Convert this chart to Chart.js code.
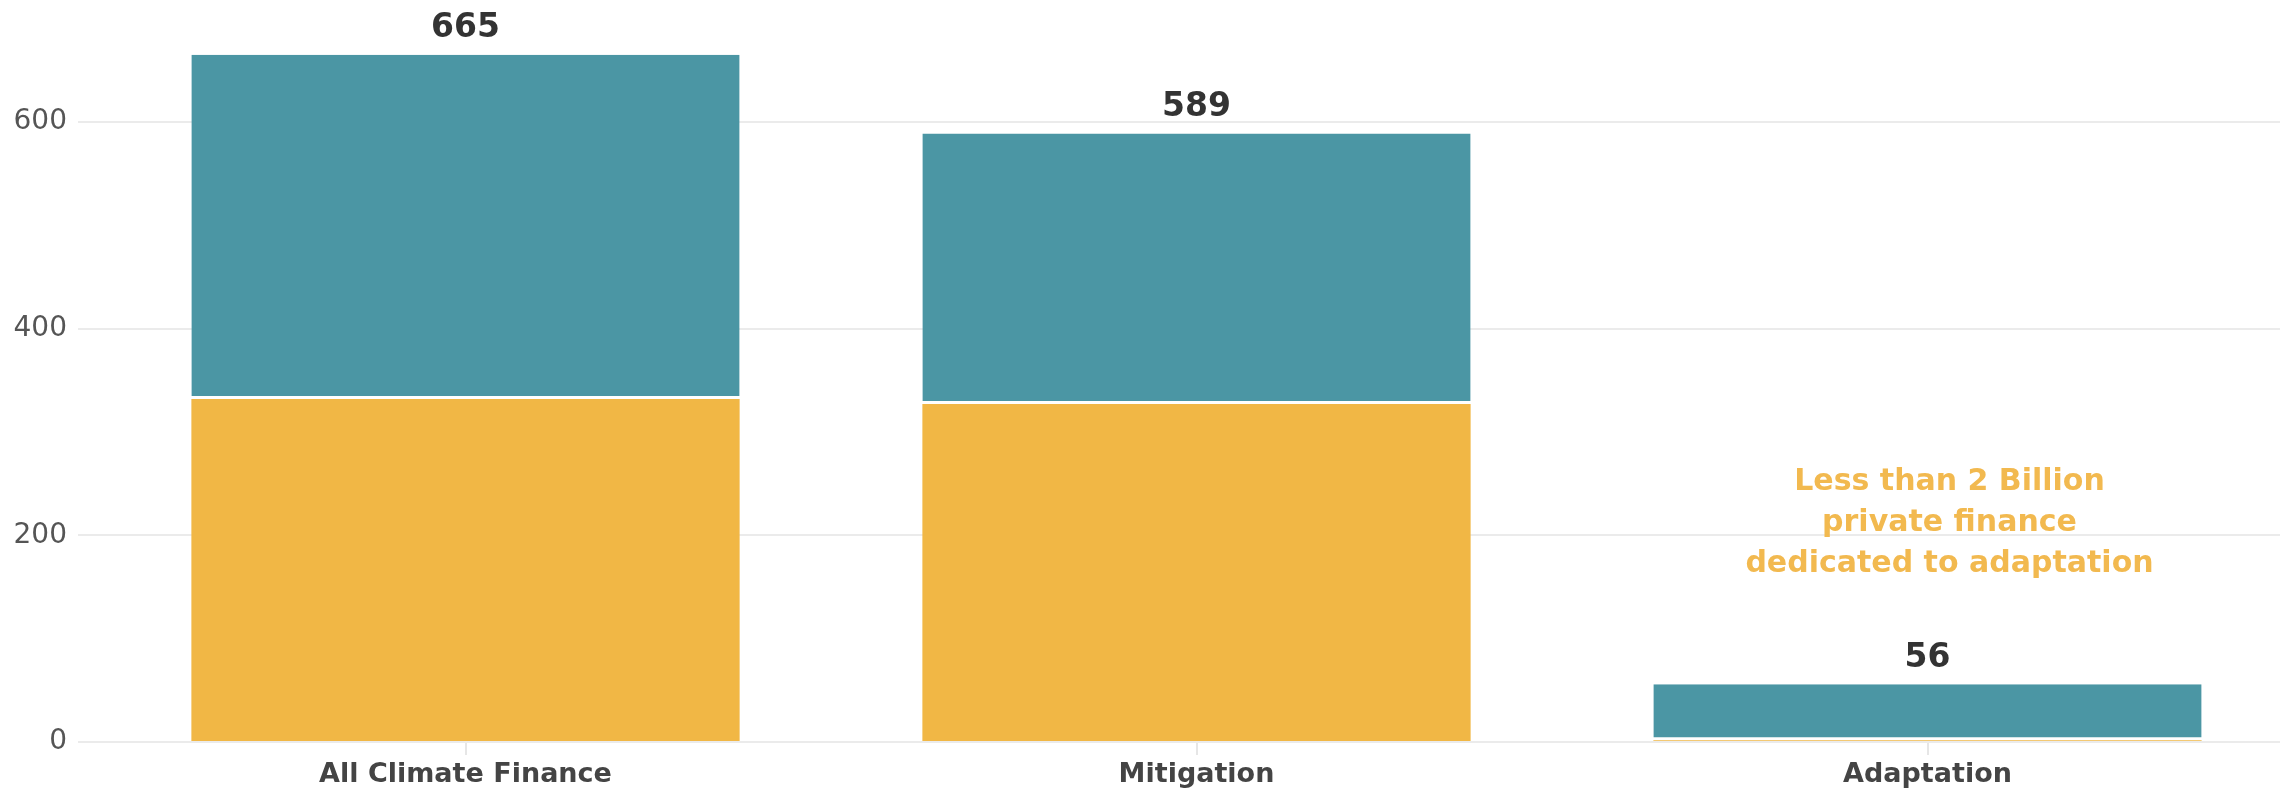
<!DOCTYPE html>
<html>
<head>
<meta charset="utf-8">
<script src="https://cdn.jsdelivr.net/npm/chart.js@4.4.1/dist/chart.umd.min.js"></script>
<style>
  html, body { margin: 0; padding: 0; background: #fff; overflow: hidden; }
  #wrap { width: 2293px; height: 792px; }
</style>
</head>
<body>
<div id="wrap"><canvas id="finance-chart"></canvas></div>
<script>
const categories = ['All Climate Finance', 'Mitigation', 'Adaptation'];
const privateFinance = [332, 327, 1.6];
const publicFinance = [333, 262, 54.4];
const yTicks = [0, 200, 400, 600];
const noteLines = ['Less than 2 Billion', 'private finance', 'dedicated to adaptation'];

const TEAL = '#4b96a4';
const YELLOW = '#f1b745';

Chart.defaults.font.family = "'DejaVu Sans', sans-serif";

// total value above each stacked bar + the note over the adaptation bar
const barLabels = {
  id: 'barLabels',
  afterDatasetsDraw(chart) {
    const ctx = chart.ctx;
    const topMeta = chart.getDatasetMeta(chart.data.datasets.length - 1);
    ctx.save();
    ctx.textAlign = 'center';
    ctx.textBaseline = 'middle';
    ctx.font = "bold 33px 'DejaVu Sans'";
    ctx.fillStyle = '#333333';
    categories.forEach((c, i) => {
      const total = Math.round(privateFinance[i] + publicFinance[i]);
      const bar = topMeta.data[i];
      ctx.fillText(String(total), bar.x, bar.y - 26);
    });

    const y = chart.scales.y;
    const last = topMeta.data[categories.length - 1];
    ctx.font = "bold 30px 'DejaVu Sans'";
    ctx.fillStyle = '#f2b94f';
    noteLines.forEach((line, k) => {
      ctx.fillText(line, last.x + 22, y.getPixelForValue(251) + k * 41);
    });
    ctx.restore();
  }
};

new Chart(document.getElementById('finance-chart').getContext('2d'), {
  type: 'bar',
  data: {
    labels: categories,
    datasets: [
      {
        label: 'Private',
        data: privateFinance,
        backgroundColor: YELLOW,
        borderWidth: 0
      },
      {
        label: 'Public',
        data: publicFinance,
        backgroundColor: TEAL,
        borderColor: '#ffffff',
        borderWidth: { top: 0, left: 0, right: 0, bottom: 3 },
        borderSkipped: false
      }
    ]
  },
  options: {
    responsive: true,
    maintainAspectRatio: false,
    animation: false,
    layout: { padding: { top: 18.7, right: 0, bottom: 0, left: 0 } },
    datasets: {
      bar: { categoryPercentage: 1, barPercentage: 0.75 }
    },
    plugins: {
      legend: { display: false },
      tooltip: { enabled: false }
    },
    scales: {
      x: {
        stacked: true,
        afterFit: (scale) => {
          scale.height = 50;
          scale.paddingLeft = 0;
          scale.paddingRight = 0;
        },
        border: { display: false },
        grid: {
          offset: false,
          drawOnChartArea: false,
          drawTicks: true,
          tickLength: 13,
          color: '#e6e6e6',
          lineWidth: 2
        },
        ticks: {
          padding: 4,
          color: '#444444',
          font: { size: 27, weight: 'bold' }
        }
      },
      y: {
        stacked: true,
        min: 0,
        max: 700,
        afterFit: (scale) => {
          scale.width = 100;
          scale.paddingTop = 0;
          scale.paddingBottom = 0;
        },
        afterBuildTicks: (scale) => {
          scale.ticks = yTicks.map(v => ({ value: v }));
        },
        border: { display: false },
        grid: {
          color: '#ebebeb',
          lineWidth: 2,
          drawTicks: true,
          tickLength: 22
        },
        ticks: {
          padding: 11,
          color: '#555555',
          font: { size: 28 }
        }
      }
    }
  },
  plugins: [barLabels]
});
</script>
</body>
</html>
